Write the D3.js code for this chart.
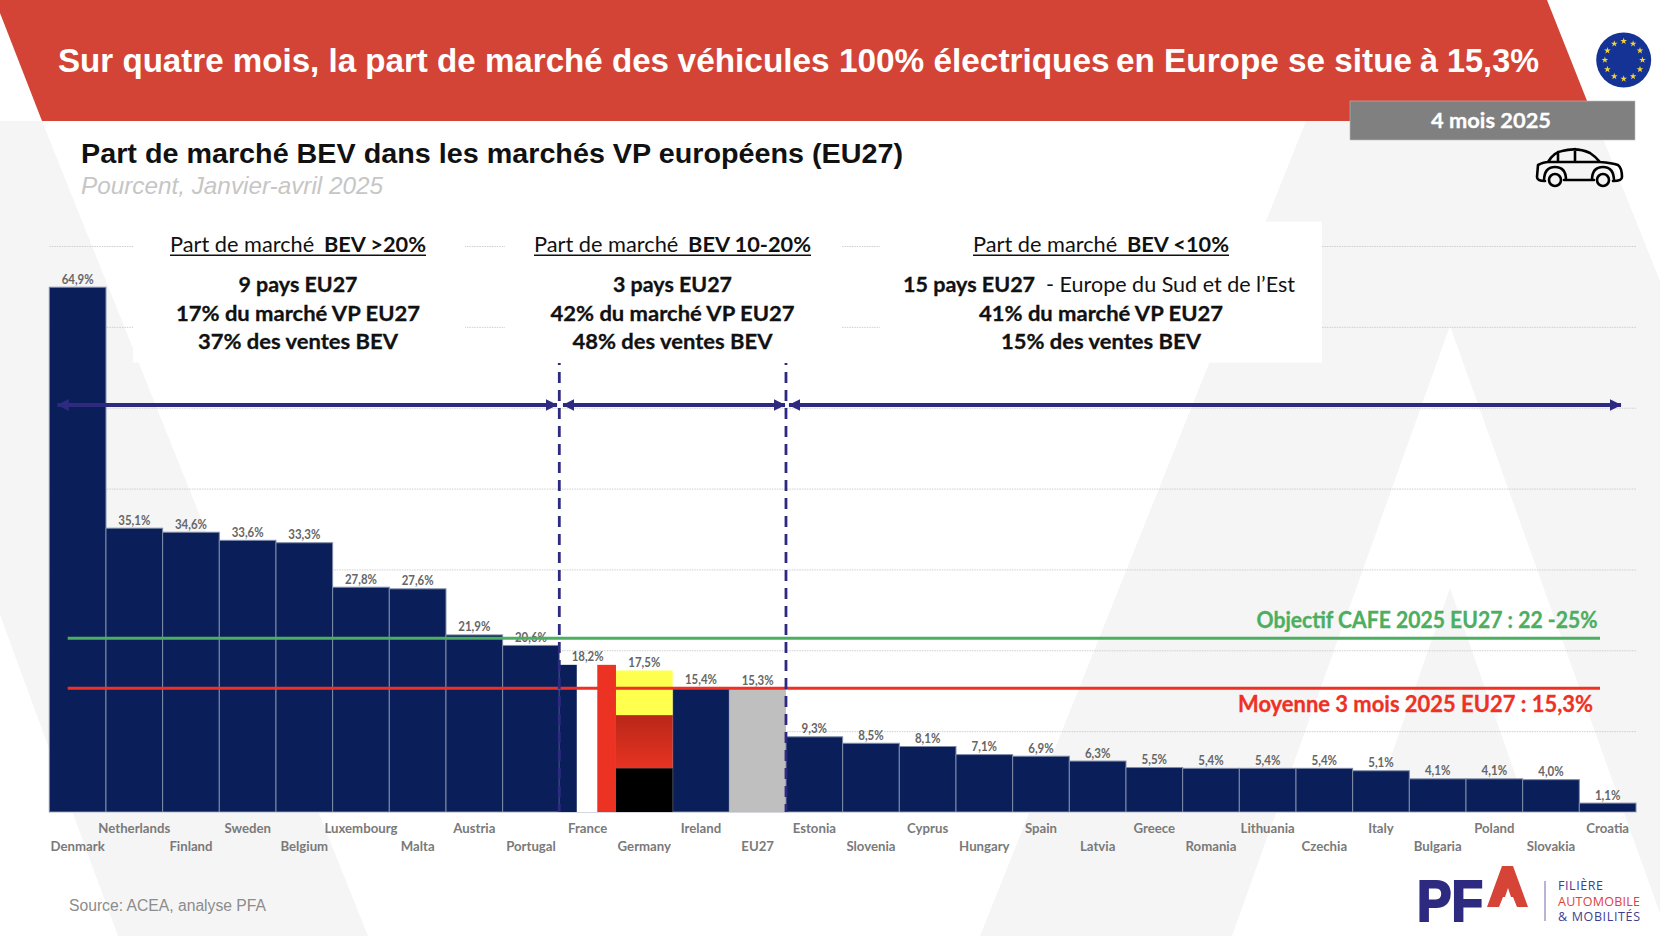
<!DOCTYPE html>
<html><head><meta charset="utf-8">
<script src="https://cdn.jsdelivr.net/npm/d3@7/dist/d3.min.js"></script>
<style>html,body{margin:0;padding:0;background:#fff}svg{display:block}</style>
</head><body><svg id="c" width="1660" height="936"></svg>
<script>
const categories=["Denmark","Netherlands","Finland","Sweden","Belgium","Luxembourg","Malta","Austria","Portugal","France","Germany","Ireland","EU27","Estonia","Slovenia","Cyprus","Hungary","Spain","Latvia","Greece","Romania","Lithuania","Czechia","Italy","Bulgaria","Poland","Slovakia","Croatia"];
const values=[64.9,35.1,34.6,33.6,33.3,27.8,27.6,21.9,20.6,18.2,17.5,15.4,15.3,9.3,8.5,8.1,7.1,6.9,6.3,5.5,5.4,5.4,5.4,5.1,4.1,4.1,4.0,1.1];
const gridTicks=[10,20,30,40,50,60,70];
const targetCafe=21.5, average=15.3;
const titleParts=[["Sur quatre mois, la part de marché des",58,611],["véhicules 100% électriques",677.6,432],["en Europe se situe",1116,296],["à 15,3%",1420,119]];
const panels=[
 {cx:298,head:["Part de marché ","BEV >20%"],w:256,lines:[["9 pays EU27",119],["17% du marché VP EU27",244],["37% des ventes BEV",200]]},
 {cx:672.5,head:["Part de marché ","BEV 10-20%"],w:277,lines:[["3 pays EU27",119],["42% du marché VP EU27",244],["48% des ventes BEV",200]]},
 {cx:1101,head:["Part de marché ","BEV <10%"],w:256,lines:[["15 pays EU27",392,"  - Europe du Sud et de l’Est"],["41% du marché VP EU27",244],["15% des ventes BEV",200]]}
];
const boxes=[[133,465],[505,842],[880,1322]];
const BLUE="#0a1f5a",PURPLE="#2e2a80";

const svg=d3.select("#c");
const x=d3.scaleBand().domain(categories).range([49.3,1636]).padding(0);
const y=d3.scaleLinear().domain([0,70]).range([812,246]);
const fmt=d3.formatLocale({decimal:",",thousands:" ",grouping:[3],currency:["",""]}).format(".1f");
const line=d3.line();

// background shapes
const bg=svg.append("g").attr("fill","#f5f5f5");
[[[0,121],[42,121],[368,936],[118,936],[0,615]],
 [[1306,121],[1596,121],[1660,281],[1660,936],[1668,936],[1450,326],[1232,936],[980,936]],
 [[1450,588],[1528,811],[1372,811]]
].forEach(p=>bg.append("path").attr("d",line(p)+"Z"));

// header
svg.append("path").attr("d",line([[0,13],[0,0],[1547,0],[1595,121],[42,121]])+"Z").attr("fill","#d34437");
titleParts.forEach(t=>svg.append("text").text(t[0]).attr("x",t[1]).attr("y",72).attr("fill","#fff")
  .attr("font-family","Liberation Sans").attr("font-weight","bold").attr("font-size",33)
  .attr("textLength",t[2]).attr("lengthAdjust","spacingAndGlyphs"));
svg.append("rect").attr("x",1350).attr("y",101).attr("width",285).attr("height",39).attr("fill","#808080").attr("stroke","#bbb").attr("stroke-width",.6);
svg.append("text").text("4 mois 2025").attr("x",1491).attr("y",128).attr("text-anchor","middle").attr("fill","#fff")
  .attr("font-family","Lato").attr("font-weight","bold").attr("font-size",21).attr("stroke","#fff").attr("stroke-width",.3).attr("textLength",120).attr("lengthAdjust","spacingAndGlyphs");
svg.append("text").text("Part de marché BEV dans les marchés VP européens (EU27)").attr("x",81).attr("y",163).attr("fill","#111")
  .attr("font-family","Liberation Sans").attr("font-weight","bold").attr("font-size",27.5).attr("textLength",822).attr("lengthAdjust","spacingAndGlyphs");
svg.append("text").text("Pourcent, Janvier-avril 2025").attr("x",81).attr("y",194).attr("fill","#c6c6c6")
  .attr("font-family","Liberation Sans").attr("font-style","italic").attr("font-size",24).attr("textLength",302).attr("lengthAdjust","spacingAndGlyphs");

// EU flag
const flag=svg.append("g").attr("transform","translate(1623.7,60)");
flag.append("circle").attr("r",27.5).attr("fill","#143395");
d3.range(12).forEach(i=>{const a=i*Math.PI/6;
  flag.append("path").attr("d",d3.symbol(d3.symbolStar,14)()).attr("fill","#f5d33a")
    .attr("transform",`translate(${18.8*Math.sin(a)},${-18.8*Math.cos(a)})`);});

// car icon
const car=svg.append("g").attr("fill","none").attr("stroke","#000").attr("stroke-width",2.6).attr("stroke-linejoin","round").attr("stroke-linecap","round");
car.append("path").attr("d","M1545,181 Q1537,181 1537,177 L1538,165 Q1544,162 1548,162 Q1554,152 1562,151 Q1577,147 1590,153 Q1596,157 1600,162 Q1612,163 1618,165 Q1622,168 1622,177 Q1622,181 1613,181 M1564,180 L1594,180 M1548,162 L1600,162 M1558,152 L1558,162 M1575,149 L1575,162 M1544,181 Q1544,167 1555,167 Q1566,167 1566,180 M1592,180 Q1592,167 1603,167 Q1614,167 1614,181");
car.append("circle").attr("cx",1555).attr("cy",180).attr("r",6);
car.append("circle").attr("cx",1603).attr("cy",180).attr("r",6);

// gridlines
const grid=svg.append("g").attr("transform",`translate(${x.range()[0]},0)`)
  .call(d3.axisLeft(y).tickValues(gridTicks).tickSize(-(x.range()[1]-x.range()[0])).tickFormat(""));
grid.select(".domain").remove();
grid.selectAll("line").attr("stroke","#cecece").attr("stroke-width",1).attr("stroke-dasharray","1.5 1");

// white panels over the grid
boxes.forEach(b=>svg.append("rect").attr("x",b[0]).attr("y",221.7).attr("width",b[1]-b[0]).attr("height",141).attr("fill","#fff"));

// bars
const plain=categories.map((c,i)=>({c,v:values[i]})).filter(d=>d.c!=="France"&&d.c!=="Germany");
svg.append("g").selectAll("rect").data(plain).join("rect")
  .attr("x",d=>x(d.c)).attr("width",x.bandwidth()).attr("y",d=>y(d.v)).attr("height",d=>y(0)-y(d.v))
  .attr("fill",d=>d.c==="EU27"?"#bfbfbf":BLUE).attr("stroke",d=>d.c==="EU27"?"none":"#7f8ca8").attr("stroke-width",1);

// France (vertical stripes) and Germany (horizontal stripes)
const defs=svg.append("defs");
const grad=defs.append("linearGradient").attr("id","deRed").attr("x1",0).attr("y1",0).attr("x2",0).attr("y2",1);
grad.append("stop").attr("offset",0).attr("stop-color","#b92718");
grad.append("stop").attr("offset",1).attr("stop-color","#e63322");
const frShare=[[.31,BLUE],[.36,"#ffffff"],[.33,"#ec3323"]];
let fx=x("France");
const frV=values[categories.indexOf("France")];
frShare.forEach(s=>{svg.append("rect").attr("x",fx).attr("width",s[0]*x.bandwidth()).attr("y",y(frV)).attr("height",y(0)-y(frV)).attr("fill",s[1]);fx+=s[0]*x.bandwidth();});
const deShare=[[.31,"#000"],[.375,"url(#deRed)"],[.315,"#ffff4d"]];
const deV=values[categories.indexOf("Germany")];
let acc=0;
deShare.forEach(s=>{svg.append("rect").attr("x",x("Germany")).attr("width",x.bandwidth()).attr("y",y((acc+s[0])*deV)).attr("height",y(acc*deV)-y((acc+s[0])*deV)).attr("fill",s[1]);acc+=s[0];});

// value labels
svg.append("g").selectAll("text").data(categories).join("text")
  .text((c,i)=>fmt(values[i])+"%").attr("x",c=>x(c)+x.bandwidth()/2).attr("y",(c,i)=>y(values[i])-3.5)
  .attr("text-anchor","middle").attr("font-family","Lato").attr("font-weight","bold").attr("font-size",12.5).attr("fill","#666")
  .attr("textLength",(c,i)=>values[i]>=10?32:25.5).attr("lengthAdjust","spacingAndGlyphs");

// category axis
const ax=svg.append("g").attr("transform",`translate(0,${y(0)})`).call(d3.axisBottom(x).tickSize(0));
ax.select(".domain").attr("stroke","#d5d8e0").attr("stroke-width",1.2);
ax.selectAll("text").attr("y",(c,i)=>i%2?21.3:39).attr("dy",0)
  .attr("font-family","Lato").attr("font-weight","bold").attr("font-size",13.2).attr("fill","#7a7a7a");

// reference lines
const refs=[[targetCafe,"#4cae60","Objectif CAFE 2025 EU27 : 22 -25%",1597.5,628,341],[average,"#ee3124","Moyenne 3 mois 2025 EU27 : 15,3%",1593,711.7,355]];
refs.forEach(r=>{
  svg.append("line").attr("x1",67.7).attr("x2",1600).attr("y1",y(r[0])).attr("y2",y(r[0])).attr("stroke",r[1]).attr("stroke-width",3);
  svg.append("text").text(r[2]).attr("x",r[3]).attr("y",r[4]).attr("text-anchor","end").attr("fill",r[1])
    .attr("font-family","Lato").attr("font-weight","bold").attr("font-size",22).attr("stroke",r[1]).attr("stroke-width",.3).attr("textLength",r[5]).attr("lengthAdjust","spacingAndGlyphs");
});

// dashed separators
["France","EU27"].forEach((c,i)=>{const xp=i?x(c)+x.bandwidth():x(c);
  svg.append("line").attr("x1",xp).attr("x2",xp).attr("y1",363).attr("y2",y(0)).attr("stroke",PURPLE).attr("stroke-width",2.8)
    .attr("stroke-dasharray","11 7").attr("stroke-dashoffset",9);
});

// arrows
defs.append("marker").attr("id","ah").attr("viewBox","0 0 10 10").attr("refX",9.5).attr("refY",5).attr("markerUnits","userSpaceOnUse")
  .attr("markerWidth",12).attr("markerHeight",12).attr("orient","auto-start-reverse")
  .append("path").attr("d","M0,0L10,5L0,10Z").attr("fill",PURPLE);
[[57.5,557],[563,785],[789,1621]].forEach(a=>{
  svg.append("line").attr("x1",a[0]).attr("x2",a[1]).attr("y1",405).attr("y2",405).attr("stroke",PURPLE).attr("stroke-width",4)
    .attr("marker-end","url(#ah)").attr("marker-start","url(#ah)");
});

// panel text
panels.forEach(p=>{
  const h=svg.append("text").attr("x",p.cx).attr("y",251.7).attr("text-anchor","middle").attr("fill","#111")
    .attr("font-family","Lato").attr("font-size",21).attr("textLength",p.w).attr("lengthAdjust","spacingAndGlyphs");
  h.append("tspan").text(p.head[0]);
  h.append("tspan").text(p.head[1]).attr("font-weight","bold").attr("dx",4);
  svg.append("line").attr("x1",p.cx-p.w/2).attr("x2",p.cx+p.w/2).attr("y1",255.3).attr("y2",255.3).attr("stroke","#111").attr("stroke-width",1.6);
  p.lines.forEach((l,i)=>{
    const t=svg.append("text").attr("x",p.cx-(l[2]?2:0)).attr("y",291.7+i*28.8).attr("text-anchor","middle").attr("fill","#111")
      .attr("font-family","Lato").attr("font-size",21.5).attr("textLength",l[1]).attr("lengthAdjust","spacingAndGlyphs");
    t.append("tspan").text(l[0]).attr("font-weight","bold").attr("stroke","#111").attr("stroke-width",.3);
    if(l[2]) t.append("tspan").text(l[2]).attr("xml:space","preserve");
  });
});

// source
svg.append("text").text("Source: ACEA, analyse PFA").attr("x",69).attr("y",910.7).attr("fill","#8c8c8c")
  .attr("font-family","Liberation Sans").attr("font-size",16).attr("textLength",197).attr("lengthAdjust","spacingAndGlyphs");

// PFA logo
svg.append("text").text("PF").attr("x",1417).attr("y",921).attr("fill",PURPLE).attr("font-family","Liberation Sans").attr("font-weight","bold")
  .attr("font-size",57).attr("textLength",66).attr("lengthAdjust","spacingAndGlyphs").attr("stroke",PURPLE).attr("stroke-width",2.2);
svg.append("path").attr("d",line([[1502,866],[1513,866],[1528,907],[1517,907],[1513,897],[1511,897],[1508,888],[1505,897],[1503,897],[1499,907],[1487,907]])+"Z").attr("fill","#d64437");
svg.append("line").attr("x1",1545).attr("x2",1545).attr("y1",881).attr("y2",921).attr("stroke","#6d6aa8").attr("stroke-width",1);
[["FILIÈRE",890,45,"#3f3d92"],["AUTOMOBILE",905.5,82,"#e04040"],["& MOBILITÉS",921,82,"#3f3d92"]].forEach(t=>
  svg.append("text").text(t[0]).attr("x",1558).attr("y",t[1]).attr("fill",t[3]).attr("font-family","Open Sans").attr("font-size",12.5)
    .attr("textLength",t[2]).attr("lengthAdjust","spacing"));
</script></body></html>
